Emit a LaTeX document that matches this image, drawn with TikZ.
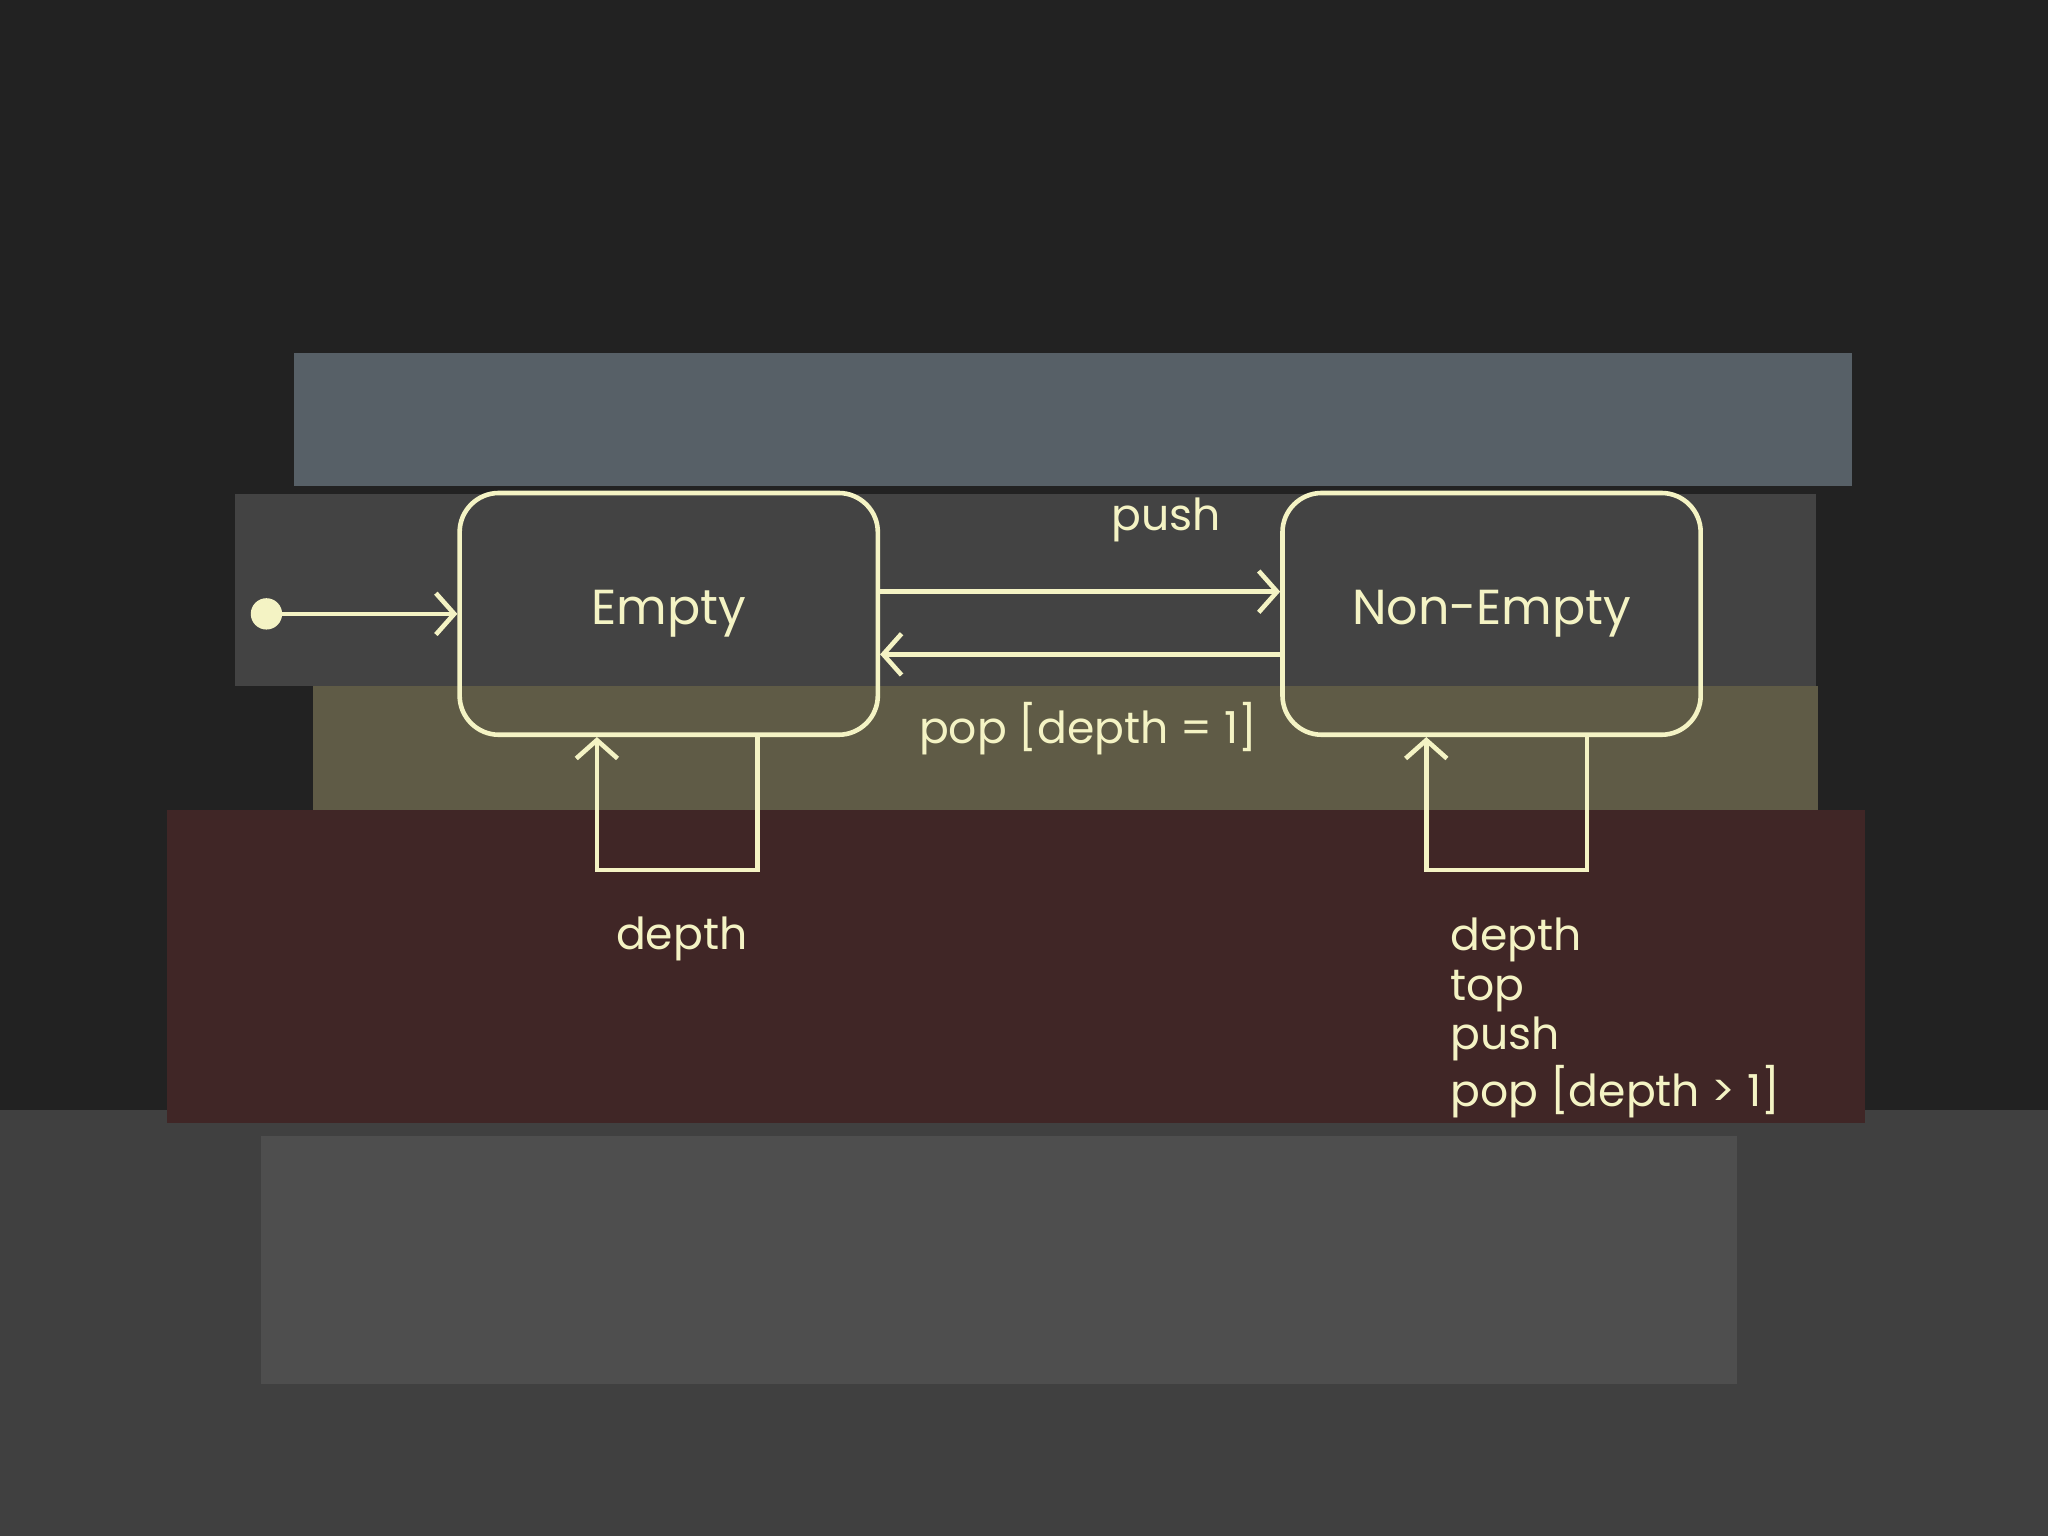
\documentclass[tikz,border=0pt]{standalone}
\usepackage{fontspec}
\setmainfont{Poppins}
\usetikzlibrary{arrows.meta}
\definecolor{cream}{HTML}{F4F3C4}
\definecolor{bg}{HTML}{222222}
\begin{document}
\begin{tikzpicture}[x=0.01cm,y=-0.01cm,
  state/.style={draw=cream,line width=1pt,rounded corners=0.3cm,minimum width=3.2cm,minimum height=1.85cm,text=cream,font=\fontsize{10.7}{13}\selectfont},
  conn/.style={draw=cream,line width=1pt,-{Straight Barb[length=4pt,width=9pt]}},
  lbl/.style={text=cream,font=\fontsize{9.6}{10.8}\selectfont}]
\fill[bg] (0,0) rectangle (1568,1176);
\fill[black!75!white] (0,850) rectangle (1568,1176);
% faint books
\fill[cyan!20!black!85] (225,270) rectangle (1418,372);
\fill[white!15!bg] (180,378) rectangle (1390,525);
\fill[olive!30!black!85] (240,525) rectangle (1392,630);
\fill[red!12!black!85] (128,620) rectangle (1428,860);
\fill[white!20!bg] (200,870) rectangle (1330,1060);
\useasboundingbox (0,0) rectangle (1568,1176);
\node[state] (E) at (512,470) {Empty};
\node[state] (N) at (1142,470) {Non-Empty};
\fill[cream] (204,470) circle (12);
\coordinate (i) at (204,470);
\draw[conn] (i) -- (E.west);
\draw[conn] (E.east|-0,453) -- (N.west|-0,453);
\draw[conn] (N.west|-0,501) -- (E.east|-0,501);
\node[lbl] (pl) at (893,398) {push};
\node[lbl] (ppl) at (833,558) {pop [depth = 1]};
\draw[conn] (E.south-|580,0) -- (580,666) -- (457,666) -- (E.south-|457,0);
\draw[conn] (N.south-|1215,0) -- (1215,666) -- (1092,666) -- (N.south-|1092,0);
\node[lbl] (dl) at (522,719) {depth};
\node[lbl,anchor=north west,align=left,inner sep=0pt] (nl) at (1110,702) {depth\\top\\push\\pop [depth > 1]};
\end{tikzpicture}
\end{document}
